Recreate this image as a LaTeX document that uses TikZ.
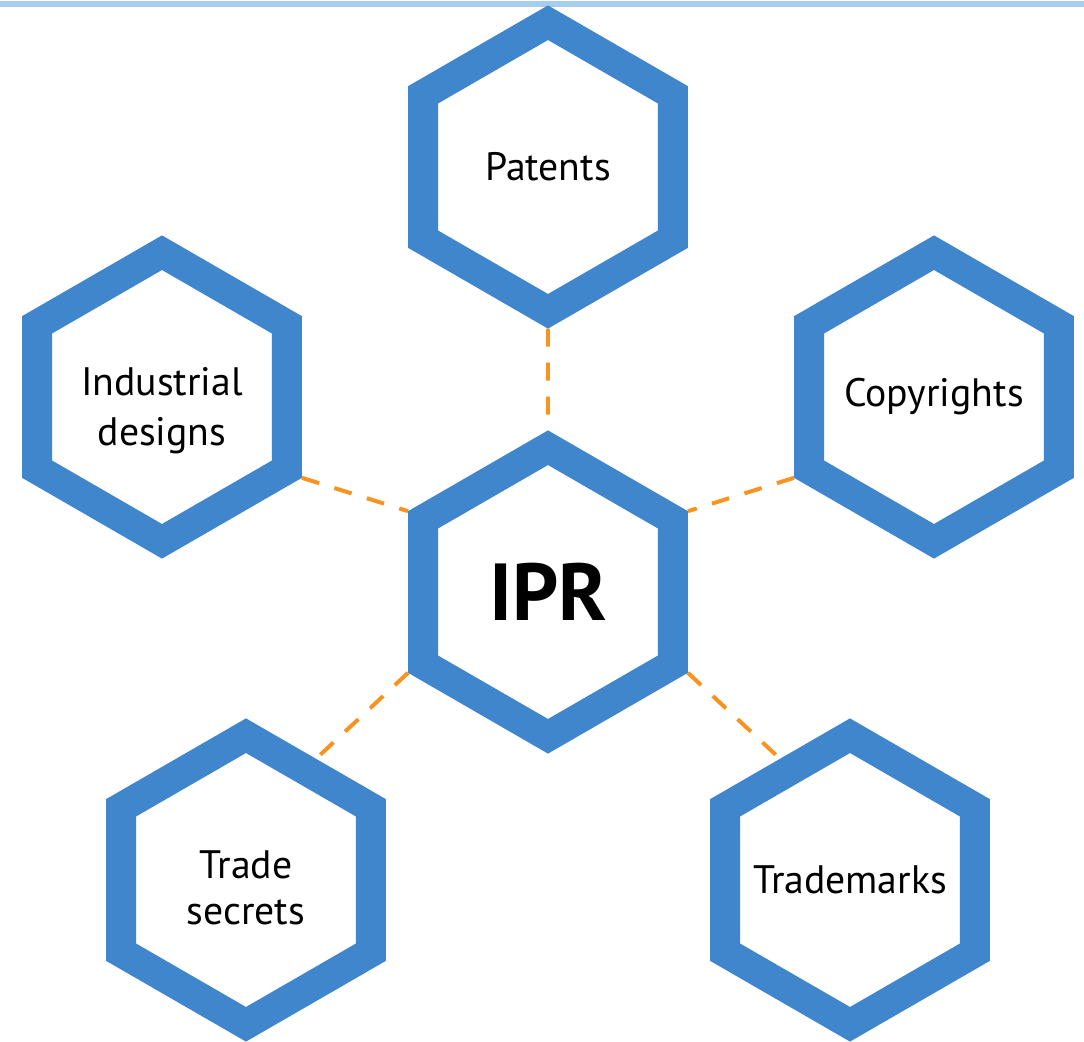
\documentclass[tikz,border=0pt]{standalone}
\usepackage{fontspec}
\setmainfont{PT Sans}
\usepackage{tikz}
\usetikzlibrary{shapes.geometric,backgrounds}
\definecolor{hexblu}{HTML}{3F86CD}
\definecolor{arancio}{HTML}{F7931E}
\definecolor{azzurro}{HTML}{A7CDEE}

\tikzset{
  esagono/.style={regular polygon, regular polygon sides=6, shape border rotate=30,
    minimum size=2.886cm, inner sep=-8pt, draw=hexblu, line width=0.30cm, fill=white,
    align=center, font=\fontsize{11.3}{14.2}\selectfont},
  collegamento/.style={arancio, line width=0.04cm, dash pattern=on 0.18cm off 0.16cm}
}

\begin{document}
\begin{tikzpicture}
        \useasboundingbox (0,0) rectangle (10.84,-10.42);
        \draw[azzurro, line width=0.06cm] (0,-0.04) -- (10.84,-0.04);
        % esagoni
        \node[esagono] (patents)    at (5.48,-1.67) {Patents};
        \node[esagono, font=\fontsize{23}{26}\selectfont\bfseries] (ipr) at (5.48,-5.92) {IPR};
        \node[esagono] (industrial) at (1.62,-3.97) {\raisebox{-0.49cm}[0pt][0pt]{\shortstack{Industrial\\[0.11cm]designs}}};
        \node[esagono] (copyrights) at (9.34,-3.97) {Copyrights};
        \node[esagono] (trade)      at (2.46,-8.80) {\raisebox{-0.45cm}[0pt][0pt]{\shortstack{Trade\\[0.11cm]secrets}}};
        \node[esagono] (trademarks) at (8.50,-8.80) {Trademarks};
        % collegamenti
        \begin{scope}[on background layer]
            \draw[collegamento] (patents.270)    -- (ipr.90);
            \draw[collegamento] (industrial.330) -- (ipr.150);
            \draw[collegamento] (copyrights.210) -- (ipr.30);
            \draw[collegamento] (ipr.210) -- (trade.60);
            \draw[collegamento] (ipr.330) -- (trademarks.120);
        \end{scope}
    \end{tikzpicture}
\end{document}
